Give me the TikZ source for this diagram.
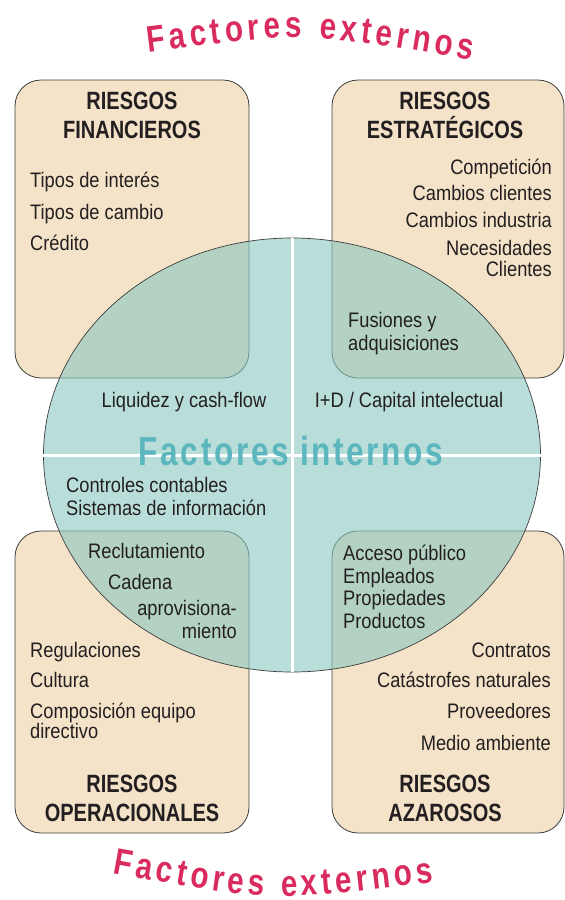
\documentclass[tikz,border=0pt]{standalone}
\usepackage{fontspec}
\setmainfont{Liberation Sans}[FakeStretch=0.87]
\newfontfamily\headfamily{Liberation Sans}[FakeStretch=0.8]
\newfontfamily\innerfamily{Liberation Sans}[FakeStretch=0.78,LetterSpace=6.5]
\newfontfamily\outerfamily{Liberation Sans}[FakeStretch=0.8]
\usepackage{tikz}
\usetikzlibrary{shapes.geometric,positioning,decorations.text}
\usepackage{xcolor}
\definecolor{rkbeige}{RGB}{244,227,201}
\definecolor{rkborder}{RGB}{60,60,60}
\definecolor{rkteal}{RGB}{138,200,193}
\definecolor{rktealtext}{RGB}{91,182,190}
\definecolor{rkpink}{RGB}{217,43,94}
\definecolor{rktext}{RGB}{35,31,32}
\tikzstyle{riskbox} = [rectangle, rounded corners=26pt, draw=rkborder, fill=rkbeige, line width=0.8pt, minimum width=234pt, minimum height=298pt, inner sep=0pt]
\tikzstyle{core} = [ellipse, draw=rkborder, fill=rkteal, fill opacity=0.6, line width=0.7pt, minimum width=497pt, minimum height=434pt, inner sep=0pt]
\tikzstyle{divider} = [draw=white, line width=3pt]
\tikzstyle{heading} = [inner sep=0pt, align=center, text=rktext, font=\headfamily\bfseries\fontsize{25}{29}\selectfont]
\tikzstyle{item} = [inner sep=0pt, text=rktext, font=\fontsize{21}{22.5}\selectfont]
\tikzstyle{outer} = [decorate, decoration={text along path, text color=rkpink, text align=fit to path, text={|\outerfamily\bfseries\fontsize{37}{37}\selectfont|Factores externos}}]

\begin{document}
\begin{tikzpicture}[x=1pt, y=-1pt]
\useasboundingbox (0,0) rectangle (565,900);
% risk boxes
\node[riskbox] (fin) at (132,229) {};
\node[riskbox, minimum width=232pt] (est) at (448,229) {};
\node[riskbox, minimum height=302pt] (ope) at (132,682) {};
\node[riskbox, minimum width=232pt, minimum height=302pt] (aza) at (448,682) {};

% internal factors
\node[core] (core) at (292,455) {};
\draw[divider] (core.north) -- (core.south);
\draw[divider] (core.west) -- (core.east);
\node[anchor=base, inner sep=0pt, text=rktealtext, font=\innerfamily\bfseries\fontsize{40.5}{40.5}\selectfont] (intitle) at (291,465) {Factores internos};

% financial
\node[heading, anchor=base] (finh) at (132,138) {RIESGOS\\FINANCIEROS};
\node[item, anchor=base west] (tint) at (30,187) {Tipos de interés};
\node[item, anchor=base west] (tcam) at (30,219) {Tipos de cambio};
\node[item, anchor=base west] (cred) at (30,250) {Crédito};
\node[item, anchor=base] (liq) at (184,407) {Liquidez y cash-flow};

% strategic
\node[heading, anchor=base] (esth) at (445,138) {RIESGOS\\ESTRATÉGICOS};
\node[item, anchor=base east] (comp) at (552,174) {Competición};
\node[item, anchor=base east] (ccli) at (552,200) {Cambios clientes};
\node[item, anchor=base east] (cind) at (552,227) {Cambios industria};
\node[item, anchor=base east, align=right] (nec) at (552,276) {Necesidades\\[-1.5pt]Clientes};
\node[item, anchor=base west, align=left] (fus) at (348,350) {Fusiones y\\adquisiciones};
\node[item, anchor=base] (imas) at (409,407) {I+D / Capital intelectual};

% operational
\node[item, anchor=base west, align=left] (ctrl) at (66,515) {Controles contables\\Sistemas de información};
\node[item, anchor=base west] (recl) at (88,558) {Reclutamiento};
\node[item, anchor=base west] (cad) at (108,589) {Cadena};
\node[item, anchor=base east, align=right] (apro) at (237,638) {aprovisiona-\\miento};
\node[item, anchor=base west] (regu) at (30,657) {Regulaciones};
\node[item, anchor=base west] (cult) at (30,687) {Cultura};
\node[item, anchor=base west, align=left] (comq) at (30,738) {Composición equipo\\[-2.5pt]directivo};
\node[heading, anchor=base] (opeh) at (132,821) {RIESGOS\\OPERACIONALES};

% hazard
\node[item, anchor=base west, align=left] (acc) at (343,628) {Acceso público\\Empleados\\Propiedades\\Productos};
\node[item, anchor=base east] (cont) at (551,657) {Contratos};
\node[item, anchor=base east] (cata) at (551,687) {Catástrofes naturales};
\node[item, anchor=base east] (prov) at (551,718) {Proveedores};
\node[item, anchor=base east] (medi) at (551,750) {Medio ambiente};
\node[heading, anchor=base] (azah) at (445,821) {RIESGOS\\AZAROSOS};

% external factors
\path[outer] (148,52) .. controls (306,32) .. (472,60);
\path[outer] (112,873) .. controls (272,902) .. (434,882);
\end{tikzpicture}
\end{document}
